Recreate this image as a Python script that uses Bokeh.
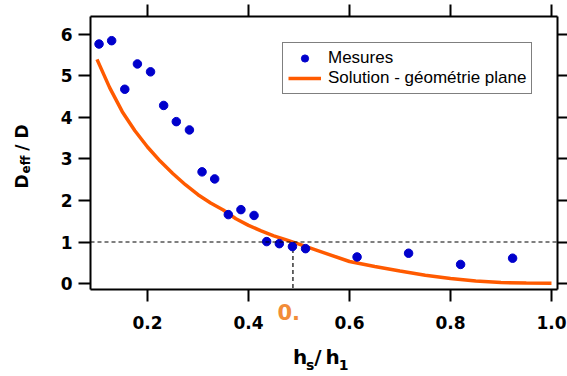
import math
from bokeh.plotting import figure
from bokeh.models import (Range1d, LinearAxis, FixedTicker, Span, Label,
                          Legend, LegendItem)
from bokeh.embed import file_html
from bokeh.resources import INLINE

# ---------------- data ----------------
mes_x = [0.104, 0.129, 0.155, 0.180, 0.206, 0.232, 0.257, 0.283, 0.308, 0.333,
         0.360, 0.385, 0.411, 0.436, 0.461, 0.487, 0.513, 0.615, 0.717, 0.820, 0.923]
mes_y = [5.77, 5.85, 4.68, 5.29, 5.10, 4.29, 3.90, 3.70, 2.69, 2.52,
         1.66, 1.78, 1.64, 1.01, 0.96, 0.89, 0.84, 0.64, 0.73, 0.46, 0.61]

sol_x = [0.10, 0.125, 0.15, 0.175, 0.20, 0.225, 0.25, 0.275, 0.30, 0.325,
         0.35, 0.375, 0.40, 0.425, 0.45, 0.475, 0.50, 0.55, 0.60, 0.65,
         0.70, 0.75, 0.80, 0.85, 0.90, 0.95, 1.00]
sol_y = [5.40, 4.72, 4.14, 3.68, 3.29, 2.95, 2.65, 2.38, 2.14, 1.94,
         1.77, 1.56, 1.40, 1.27, 1.15, 1.05, 0.95, 0.74, 0.53, 0.41,
         0.30, 0.20, 0.12, 0.06, 0.025, 0.01, 0.005]

x_ticks = [0.2, 0.4, 0.6, 0.8, 1.0]
x_tick_labels = ["0.2", "0.4", "0.6", "0.8", "1.0"]
y_ticks = [0, 1, 2, 3, 4, 5, 6]
y_tick_labels = ["0", "1", "2", "3", "4", "5", "6"]

cross_x = 0.488
cross_y = 1.0

legend_labels = ["Mesures", "Solution - géométrie plane"]
marker_label = "0."

NB = "\u00a0"   # no-break space
TH = "\u2009"   # thin space
y_title_main = "D" + NB * 4 + "/" + NB + "D"
y_title_sub = "eff"
x_title_main = "h" + NB + "/" + TH + "h"
x_title_sub = "s" + NB * 5 + "1"

X_START, X_END = 0.0871, 1.0119
Y_START, Y_END = -0.144, 6.433

BLUE = "#0000CC"
ORANGE = "#FF5A00"
LABEL_ORANGE = "#F28C38"
FONT = "DejaVu Sans"

# ---------------- figure ----------------
p = figure(width=567, height=376, output_backend="svg", toolbar_location=None,
           x_range=Range1d(X_START, X_END), y_range=Range1d(Y_START, Y_END),
           min_border_left=90, min_border_right=10, min_border_top=16,
           min_border_bottom=87)
p.background_fill_color = "white"
p.border_fill_color = "white"
p.outline_line_color = None
p.xgrid.visible = False
p.ygrid.visible = False

top = LinearAxis()
right = LinearAxis()
p.add_layout(top, "above")
p.add_layout(right, "right")
bottom = p.below[0]
left = p.left[0]

bottom.ticker = FixedTicker(ticks=x_ticks)
bottom.major_label_overrides = dict(zip(x_ticks, x_tick_labels))
left.ticker = FixedTicker(ticks=y_ticks)
left.major_label_overrides = dict(zip(y_ticks, y_tick_labels))
# mirror axes: tick marks only, empty labels
top.ticker = FixedTicker(ticks=x_ticks)
top.major_label_overrides = {t: "" for t in x_ticks}
right.ticker = FixedTicker(ticks=y_ticks)
right.major_label_overrides = {t: "" for t in y_ticks}

for ax in [bottom, left, top, right]:
    ax.axis_line_width = 2
    ax.axis_line_color = "black"
    ax.major_tick_line_width = 2
    ax.major_tick_line_color = "black"
    ax.major_tick_in = 0
    ax.minor_tick_in = 0
    ax.minor_tick_out = 0
    ax.major_label_text_font = FONT
    ax.major_label_text_font_style = "bold"
    ax.major_label_text_color = "black"
    ax.major_label_text_font_size = "17px"

left.major_tick_out = 12
left.major_label_standoff = 6
bottom.major_tick_out = 12
bottom.major_label_standoff = 14
for ax, out in [(top, 12), (right, 10)]:
    ax.major_tick_out = out
    ax.major_label_standoff = 0
    ax.major_label_text_font_size = "0px"

# ---------------- marks ----------------
p.add_layout(Span(location=cross_y, dimension="width", line_color="black",
                  line_width=1.2, line_dash="4 3"))
p.segment(x0=[cross_x], y0=[cross_y], x1=[cross_x], y1=[Y_START],
          line_color="black", line_width=1.2, line_dash="4 3")

ln = p.line(sol_x, sol_y, line_color=ORANGE, line_width=3.5)
sc = p.scatter(mes_x, mes_y, size=8.5, fill_color=BLUE, line_color=BLUE)

legend = Legend(items=[LegendItem(label=legend_labels[0], renderers=[sc]),
                       LegendItem(label=legend_labels[1], renderers=[ln])],
                location=(192, 195), margin=0, padding=5, spacing=0,
                glyph_width=33, glyph_height=18, label_height=18,
                label_standoff=7, label_text_font="Liberation Sans",
                label_text_font_size="17px", label_text_color="black",
                border_line_color="black", border_line_width=1.5,
                background_fill_color="white", background_fill_alpha=1.0)
p.add_layout(legend)

# ---------------- axis titles (canvas-positioned text in side panels) ----
def lab(text, sx, sy, size, side, angle=0.0, color="black"):
    p.add_layout(Label(x=sx, y=sy, x_units="canvas", y_units="canvas",
                       text=text, angle=angle, text_font=FONT,
                       text_font_style="bold", text_font_size=size,
                       text_color=color, text_align="left",
                       text_baseline="middle"), side)

R = math.pi / 2
lab(y_title_main, 21, 188, "17px", "left", R)
lab(y_title_sub, 25.5, 173, "12px", "left", R)
lab(marker_label, 277, 311, "21px", "left", color=LABEL_ORANGE)
lab(x_title_main, 292.5, 356, "20px", "below")
lab(x_title_sub, 305.5, 364, "14px", "below")

open("out.html", "w").write(file_html(p, INLINE))
